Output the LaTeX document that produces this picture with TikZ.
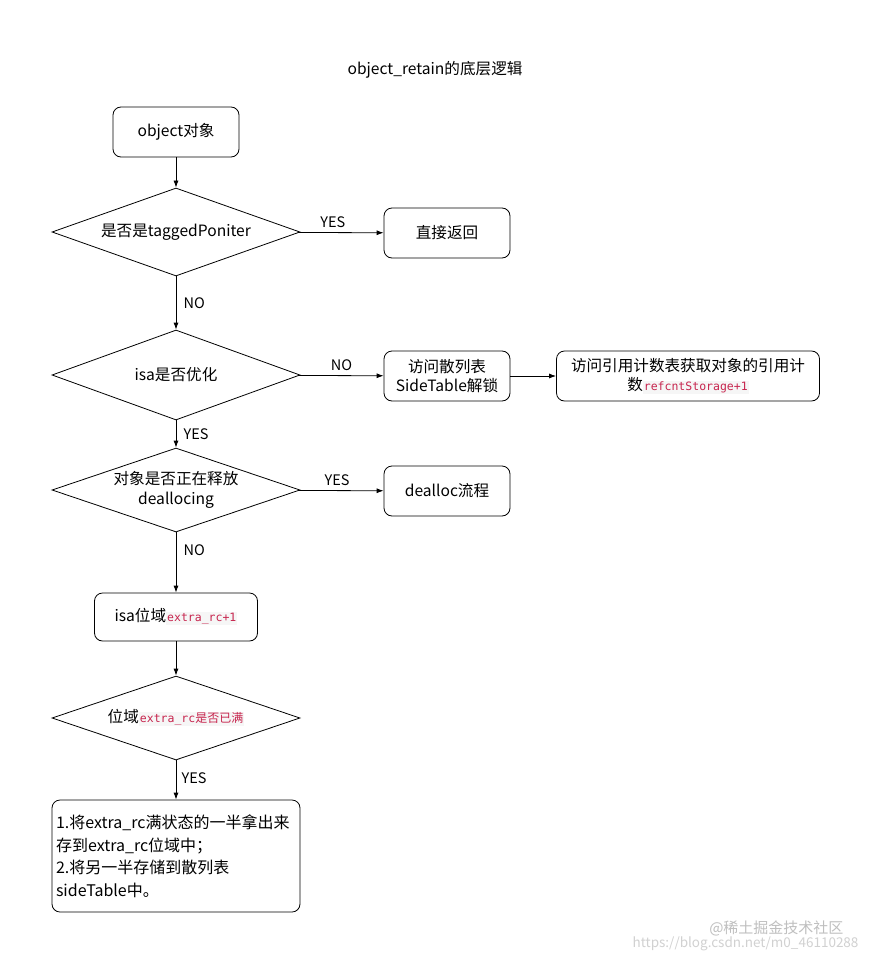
\documentclass[tikz,border=0pt]{standalone}
\usepackage{fontspec}
\setmainfont{Noto Sans CJK SC}
\setmonofont{DejaVu Sans Mono}
\usetikzlibrary{shapes.geometric,arrows.meta}
\definecolor{codered}{HTML}{C7254E}
\definecolor{codebg}{HTML}{F6F6F6}
\newcommand{\mycode}[2][]{{\setlength{\fboxsep}{1pt}\colorbox{codebg}{\color{codered}{\ttfamily\fontsize{11.5}{12}\selectfont#2}{\fontsize{12}{12}\selectfont#1}}}}
\tikzset{
  every node/.style={font=\fontsize{15.6}{19.5}\selectfont},
  procbox/.style={draw, rounded corners=8pt, line width=0.8pt, align=center, inner sep=2pt},
  decision/.style={draw, diamond, line width=0.8pt, align=center, inner sep=0pt, shape aspect=2.8, minimum width=248pt, minimum height=88pt},
  arr/.style={draw, line width=0.8pt, -{Latex[length=7pt,width=5pt]}},
  lbl/.style={font=\fontsize{14.5}{17}\selectfont}
}
\begin{document}
\begin{tikzpicture}[x=1pt,y=-1pt]
\fill[white] (0,0) rectangle (871,963);
\useasboundingbox (0,0) rectangle (871,963);

\node (title) at (435,70) {object\_retain的底层逻辑};

\node[procbox, minimum width=126pt, minimum height=50pt] (obj) at (176,132) {object对象};
\node[decision] (d1) at (176,232) {是否是taggedPoniter};
\node[procbox, minimum width=126pt, minimum height=50pt] (ret) at (447,233) {直接返回};
\node[decision, minimum height=90pt] (d2) at (176,375) {isa是否优化};
\node[procbox, minimum width=126pt, minimum height=50pt] (side) at (447,376) {访问散列表\\SideTable解锁};
\node[procbox, minimum width=263pt, minimum height=50pt] (ref) at (688,376) {访问引用计数表获取对象的引用计\\数\mycode{refcntStorage+1}};
\node[decision, minimum height=84pt] (d3) at (176,490) {对象是否正在释放\\deallocing};
\node[procbox, minimum width=163pt, minimum height=48pt] (isabit) at (176,617) {isa位域\mycode{extra\_rc+1}};
\node[procbox, minimum width=126pt, minimum height=50pt] (dealloc) at (447,491) {dealloc流程};
\node[decision, minimum height=84pt] (d4) at (176,718) {位域\mycode[是否已满]{extra\_rc}};
\node[procbox, minimum width=248pt, minimum height=112pt, align=left, text width=240pt, font=\fontsize{16}{22.5}\selectfont] (final) at (176,856) {1.将extra\_rc满状态的一半拿出来\\存到extra\_rc位域中；\\2.将另一半存储到散列表\\sideTable中。};

\draw[arr] (obj) -- (d1);
\draw[arr] (d1) -- node[lbl, above, pos=0.4, yshift=1pt] {YES} (ret);
\draw[arr] (d1) -- node[lbl, right, pos=0.5, xshift=4pt] {NO} (d2);
\draw[arr] (d2) -- node[lbl, above, pos=0.5, yshift=1pt] {NO} (side);
\draw[arr] (side) -- (ref);
\draw[arr] (d2) -- node[lbl, right, pos=0.5, xshift=4pt] {YES} (d3);
\draw[arr] (d3) -- node[lbl, above, pos=0.45, yshift=1pt] {YES} (dealloc);
\draw[arr] (d3) -- node[lbl, right, pos=0.3, xshift=4pt] {NO} (isabit);
\draw[arr] (isabit) -- (d4);
\draw[arr] (d4) -- node[lbl, right, pos=0.45, xshift=2pt] {YES} (final);

\node[text=black!25, font=\fontsize{15}{17}\selectfont, anchor=east] (wm1) at (847,928) {@稀土掘金技术社区};
\node[text=black!18, font=\fontsize{13.5}{15}\selectfont, anchor=east] (wm2) at (862,944) {https://blog.csdn.net/m0\_46110288};
\end{tikzpicture}
\end{document}
